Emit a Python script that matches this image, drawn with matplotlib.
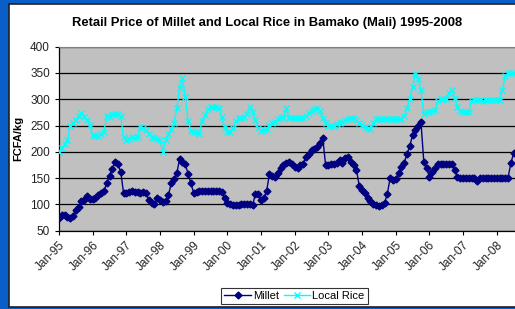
import numpy as np
import matplotlib

matplotlib.use('Agg')
import matplotlib.pyplot as plt
from matplotlib.patches import Rectangle

plt.rcParams['font.family'] = ['Liberation Sans', 'DejaVu Sans']

# monthly prices, Jan-95 .. Jul-08 (FCFA/kg)
millet = [
    75, 80, 80, 76, 75, 78, 90, 95, 107, 108, 116, 110,            # 1995
    110, 113, 118, 122, 126, 140, 155, 168, 181, 176, 162, 122,     # 1996
    122, 124, 125, 124, 123, 122, 124, 122, 108, 103, 100, 112,     # 1997
    108, 105, 106, 118, 140, 148, 160, 187, 180, 177, 158, 140,     # 1998
    122, 124, 125, 125, 125, 125, 125, 125, 125, 125, 124, 112,     # 1999
    102, 100, 99, 98, 99, 100, 100, 100, 100, 99, 120, 119,         # 2000
    108, 113, 126, 158, 155, 152, 160, 169, 175, 178, 181, 176,     # 2001
    172, 170, 175, 177, 191, 196, 203, 205, 210, 216, 226, 175,     # 2002
    175, 177, 176, 179, 184, 178, 188, 191, 180, 175, 166, 135,     # 2003
    128, 121, 113, 106, 101, 98, 97, 99, 103, 120, 150, 147,        # 2004
    148, 160, 172, 179, 196, 211, 232, 242, 249, 256, 181, 169,     # 2005
    152, 162, 170, 176, 177, 177, 177, 177, 177, 165, 152, 150,     # 2006
    150, 150, 150, 150, 150, 145, 150, 150, 150, 150, 150, 150,     # 2007
    150, 150, 150, 150, 150, 178, 197,                              # 2008
]
local_rice = [
    200, 208, 214, 222, 250, 255, 260, 268, 274, 267, 261, 252,     # 1995
    232, 230, 231, 233, 238, 268, 266, 272, 272, 272, 268, 228,     # 1996
    222, 225, 228, 226, 229, 247, 245, 242, 234, 229, 226, 224,     # 1997
    222, 200, 222, 233, 243, 255, 283, 322, 340, 305, 259, 240,     # 1998
    238, 238, 234, 259, 270, 281, 285, 286, 286, 283, 266, 247,     # 1999
    238, 238, 245, 258, 264, 264, 267, 272, 286, 275, 261, 245,     # 2000
    240, 241, 243, 251, 254, 257, 262, 264, 266, 283, 264, 264,     # 2001
    264, 264, 264, 264, 268, 273, 278, 281, 283, 278, 264, 254,     # 2002
    249, 249, 249, 253, 255, 257, 260, 262, 264, 264, 261, 255,     # 2003
    251, 247, 245, 243, 255, 262, 262, 262, 262, 262, 262, 262,     # 2004
    262, 262, 262, 268, 283, 300, 324, 349, 338, 318, 272, 276,     # 2005
    276, 278, 280, 296, 300, 300, 300, 312, 318, 302, 286, 278,     # 2006
    276, 276, 276, 297, 299, 299, 299, 296, 299, 299, 299, 299,     # 2007
    299, 299, 318, 344, 350, 350, 350,                              # 2008
]
tick_labels = ['Jan-95', 'Jan-96', 'Jan-97', 'Jan-98', 'Jan-99', 'Jan-00', 'Jan-01',
               'Jan-02', 'Jan-03', 'Jan-04', 'Jan-05', 'Jan-06', 'Jan-07', 'Jan-08']

months = np.arange(len(millet))

fig = plt.figure(figsize=(5.15, 3.09), dpi=100, facecolor='#0a5ec8')
# white chart panel
fig.patches.append(Rectangle((9 / 515, 2 / 309), 1.0, 1 - 6 / 309, transform=fig.transFigure,
                             facecolor='white', edgecolor='#202020', linewidth=1.2, zorder=-10))

ax = fig.add_axes([59 / 515, 1 - 230.7 / 309, 1 - 59 / 515, 184 / 309])
ax.set_facecolor('#c0c0c0')

ax.plot(months, millet, color='#000080', marker='D', markersize=3.5, linewidth=1,
        label='Millet', zorder=3)
ax.plot(months, local_rice, color='#00ffff', marker='x', markersize=4.5, markeredgewidth=1,
        linewidth=1, label='Local Rice', zorder=3)

ax.set_ylim(50, 400)
ax.set_yticks(np.arange(50, 401, 50))
ax.set_xlim(0, 162.5)
ax.set_xticks(np.arange(0, 12 * len(tick_labels), 12))
ax.set_xticklabels(tick_labels, rotation=45, ha='right', rotation_mode='anchor')
ax.tick_params(axis='both', labelsize=8.5, length=3, width=0.8, color='black', labelcolor='#222222')
ax.tick_params(axis='x', pad=3)

ax.yaxis.grid(True, color='black', linewidth=0.9)
ax.set_axisbelow(True)
for s in ['left', 'bottom']:
    ax.spines[s].set_color('black')
    ax.spines[s].set_linewidth(0.9)
ax.spines['top'].set_color('#808080')
ax.spines['right'].set_visible(False)

ax.set_ylabel('FCFA/kg', fontsize=8, fontweight='bold', labelpad=5)
fig.text(0.518, 1 - 23 / 309, 'Retail Price of Millet and Local Rice in Bamako (Mali) 1995-2008',
         ha='center', va='center', fontsize=9.4, fontweight='bold')

leg = fig.legend(loc='center', bbox_to_anchor=(294.5 / 515, 1 - 296 / 309), ncol=2,
                 fontsize=8, frameon=True, fancybox=False, edgecolor='black',
                 handlelength=2.4, columnspacing=0.4, handletextpad=0.2, borderpad=0.3)
leg.get_frame().set_linewidth(0.8)

plt.savefig('out.png', dpi=100, facecolor=fig.get_facecolor())
